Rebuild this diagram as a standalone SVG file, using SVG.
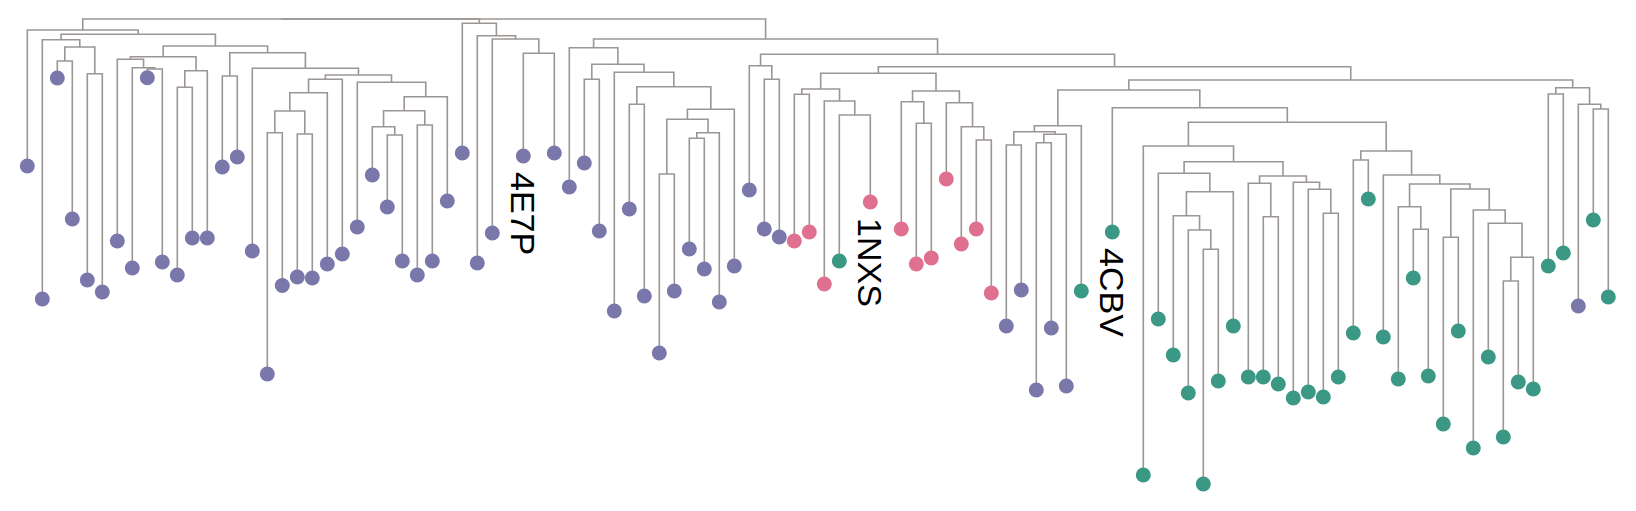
<svg xmlns="http://www.w3.org/2000/svg" width="1636" height="511" viewBox="0 0 1636 511">
<style>
.e{fill:none;stroke:#9b9693;stroke-width:1.6}
.p{fill:#7a78ab}
.k{fill:#e0708f}
.g{fill:#3a9884}
.t{font-family:"Liberation Sans",Arial,sans-serif;font-size:34px;fill:#000}
</style>
<rect width="1636" height="511" fill="#fff"/>
<g id="connectors" class="e">
<path d="M57.3 78 V61 H72.3 V219"/>
<path d="M87.3 280 V73.7 H102.3 V292"/>
<path d="M64.8 61 V47 H94.8 V73.7"/>
<path d="M42.3 299 V39.7 H79.8 V47"/>
<path d="M147.3 77.7 V69 H162.3 V262"/>
<path d="M132.3 268 V67.7 H154.8 V69"/>
<path d="M117.3 241 V59.3 H143.55 V67.7"/>
<path d="M177.3 275 V87.3 H192.3 V238"/>
<path d="M184.8 87.3 V70.7 H207.3 V238"/>
<path d="M130.4 59.3 V56.7 H196.05 V70.7"/>
<path d="M222.3 167 V76 H237.3 V157"/>
<path d="M267.3 374 V132.7 H282.3 V285.5"/>
<path d="M297.3 277 V134 H312.3 V278"/>
<path d="M274.8 132.7 V111 H304.8 V134"/>
<path d="M289.8 111 V92.7 H327.3 V264"/>
<path d="M308.55 92.7 V79.3 H342.3 V254"/>
<path d="M387.3 207 V135 H402.3 V261"/>
<path d="M372.3 175 V126.7 H394.8 V135"/>
<path d="M417.3 275 V125 H432.3 V261"/>
<path d="M383.55 126.7 V110.7 H424.8 V125"/>
<path d="M404.2 110.7 V96.7 H447.3 V201"/>
<path d="M357.3 227 V82.3 H425.75 V96.7"/>
<path d="M325.4 79.3 V75 H391.5 V82.3"/>
<path d="M252.3 251 V68.3 H358.45 V75"/>
<path d="M229.8 76 V52.7 H305.4 V68.3"/>
<path d="M163.2 56.7 V46 H267.6 V52.7"/>
<path d="M61.05 39.7 V34.3 H215.4 V46"/>
<path d="M27.3 166 V30 H138.2 V34.3"/>
<path d="M523.3 156 V53.3 H554.3 V153"/>
<path d="M492.3 233 V39 H538.8 V53.3"/>
<path d="M477.3 263 V35.7 H515.55 V39"/>
<path d="M462.3 153 V23.3 H496.4 V35.7"/>
<path d="M584.3 163 V79.3 H599.3 V231"/>
<path d="M629.3 209 V104.3 H644.3 V296"/>
<path d="M659.3 353 V174 H674.3 V291"/>
<path d="M689.3 249 V138.3 H704.3 V269"/>
<path d="M696.8 138.3 V132.7 H719.3 V302"/>
<path d="M666.8 174 V119.3 H708.05 V132.7"/>
<path d="M687.4 119.3 V109.3 H734.3 V266"/>
<path d="M636.8 104.3 V86.7 H710.85 V109.3"/>
<path d="M614.3 311 V72.3 H673.8 V86.7"/>
<path d="M591.8 79.3 V64.3 H644.05 V72.3"/>
<path d="M569.3 187 V47.7 H617.9 V64.3"/>
<path d="M764.3 229 V79.3 H779.3 V237"/>
<path d="M749.3 190 V65.7 H771.8 V79.3"/>
<path d="M794.3 241 V94.3 H809.3 V232"/>
<path d="M839.3 261 V115 H870.3 V202"/>
<path d="M824.3 284 V101 H854.8 V115"/>
<path d="M801.8 94.3 V89 H839.55 V101"/>
<path d="M916.3 264 V123.3 H931.3 V258"/>
<path d="M901.3 229 V101.7 H923.8 V123.3"/>
<path d="M976.3 229 V140 H991.3 V293"/>
<path d="M961.3 244 V126.7 H983.8 V140"/>
<path d="M946.3 179 V102.7 H972.55 V126.7"/>
<path d="M912.55 101.7 V91 H959.4 V102.7"/>
<path d="M820.7 89 V73.3 H936 V91"/>
<path d="M1006.3 326 V145 H1021.3 V290"/>
<path d="M1036.3 390 V142.7 H1051.3 V328"/>
<path d="M1043.8 142.7 V134.3 H1066.3 V386"/>
<path d="M1013.8 145 V131.7 H1055.05 V134.3"/>
<path d="M1034.4 131.7 V125.7 H1081.3 V291"/>
<path d="M1203.3 484 V249.3 H1218.3 V381"/>
<path d="M1188.3 393 V230 H1210.8 V249.3"/>
<path d="M1173.3 355 V215.7 H1199.55 V230"/>
<path d="M1186.4 215.7 V191.7 H1233.3 V326"/>
<path d="M1158.3 319 V173.3 H1209.85 V191.7"/>
<path d="M1263.3 377 V216.7 H1278.3 V384"/>
<path d="M1248.3 377 V183.3 H1270.8 V216.7"/>
<path d="M1323.3 397 V213.3 H1338.3 V377"/>
<path d="M1308.3 392 V189.3 H1330.8 V213.3"/>
<path d="M1293.3 398 V182.3 H1319.55 V189.3"/>
<path d="M1259.55 183.3 V176 H1306.4 V182.3"/>
<path d="M1184.1 173.3 V161.7 H1283 V176"/>
<path d="M1143.3 475 V146 H1233.55 V161.7"/>
<path d="M1353.3 333 V160 H1368.3 V199"/>
<path d="M1413.3 278 V229.3 H1428.3 V376"/>
<path d="M1398.3 379 V206.7 H1420.8 V229.3"/>
<path d="M1443.3 424 V237.3 H1458.3 V331"/>
<path d="M1503.3 437 V281 H1518.3 V382"/>
<path d="M1510.8 281 V257.3 H1533.3 V389"/>
<path d="M1488.3 357 V223.3 H1522.05 V257.3"/>
<path d="M1473.3 448 V210 H1505.2 V223.3"/>
<path d="M1450.8 237.3 V189 H1489.25 V210"/>
<path d="M1409.55 206.7 V184 H1470 V189"/>
<path d="M1383.3 337 V175 H1439.8 V184"/>
<path d="M1360.8 160 V151 H1411.55 V175"/>
<path d="M1188.4 146 V122.3 H1386.2 V151"/>
<path d="M1112.3 232 V107.7 H1287.3 V122.3"/>
<path d="M1057.85 125.7 V90 H1199.8 V107.7"/>
<path d="M1548.3 266 V94 H1563.3 V253"/>
<path d="M1593.3 220 V109 H1608.3 V297"/>
<path d="M1578.3 306 V104.3 H1600.8 V109"/>
<path d="M1555.8 94 V87.7 H1589.55 V104.3"/>
<path d="M1128.8 90 V80 H1572.7 V87.7"/>
<path d="M878.35 73.3 V66.7 H1350.75 V80"/>
<path d="M760.55 65.7 V54.3 H1114.55 V66.7"/>
<path d="M593.6 47.7 V39 H937.55 V54.3"/>
<path d="M82.75 30 V19 H479.35 V23.3"/>
<path d="M281.05 19 H765.6 V39"/>
</g>
<g id="n0"><circle class="p" cx="27.3" cy="166" r="7.5"/></g>
<g id="n1"><circle class="p" cx="42.3" cy="299" r="7.5"/></g>
<g id="n2"><circle class="p" cx="57.3" cy="78" r="7.5"/></g>
<g id="n3"><circle class="p" cx="72.3" cy="219" r="7.5"/></g>
<g id="n4"><circle class="p" cx="87.3" cy="280" r="7.5"/></g>
<g id="n5"><circle class="p" cx="102.3" cy="292" r="7.5"/></g>
<g id="n6"><circle class="p" cx="117.3" cy="241" r="7.5"/></g>
<g id="n7"><circle class="p" cx="132.3" cy="268" r="7.5"/></g>
<g id="n8"><circle class="p" cx="147.3" cy="77.7" r="7.5"/></g>
<g id="n9"><circle class="p" cx="162.3" cy="262" r="7.5"/></g>
<g id="n10"><circle class="p" cx="177.3" cy="275" r="7.5"/></g>
<g id="n11"><circle class="p" cx="192.3" cy="238" r="7.5"/></g>
<g id="n12"><circle class="p" cx="207.3" cy="238" r="7.5"/></g>
<g id="n13"><circle class="p" cx="222.3" cy="167" r="7.5"/></g>
<g id="n14"><circle class="p" cx="237.3" cy="157" r="7.5"/></g>
<g id="n15"><circle class="p" cx="252.3" cy="251" r="7.5"/></g>
<g id="n16"><circle class="p" cx="267.3" cy="374" r="7.5"/></g>
<g id="n17"><circle class="p" cx="282.3" cy="285.5" r="7.5"/></g>
<g id="n18"><circle class="p" cx="297.3" cy="277" r="7.5"/></g>
<g id="n19"><circle class="p" cx="312.3" cy="278" r="7.5"/></g>
<g id="n20"><circle class="p" cx="327.3" cy="264" r="7.5"/></g>
<g id="n21"><circle class="p" cx="342.3" cy="254" r="7.5"/></g>
<g id="n22"><circle class="p" cx="357.3" cy="227" r="7.5"/></g>
<g id="n23"><circle class="p" cx="372.3" cy="175" r="7.5"/></g>
<g id="n24"><circle class="p" cx="387.3" cy="207" r="7.5"/></g>
<g id="n25"><circle class="p" cx="402.3" cy="261" r="7.5"/></g>
<g id="n26"><circle class="p" cx="417.3" cy="275" r="7.5"/></g>
<g id="n27"><circle class="p" cx="432.3" cy="261" r="7.5"/></g>
<g id="n28"><circle class="p" cx="447.3" cy="201" r="7.5"/></g>
<g id="n29"><circle class="p" cx="462.3" cy="153" r="7.5"/></g>
<g id="n30"><circle class="p" cx="477.3" cy="263" r="7.5"/></g>
<g id="n31"><circle class="p" cx="492.3" cy="233" r="7.5"/></g>
<g id="n32"><circle class="p" cx="523.3" cy="156" r="7.5"/><text class="t" transform="translate(511.1 172) rotate(90)">4E7P</text></g>
<g id="n33"><circle class="p" cx="554.3" cy="153" r="7.5"/></g>
<g id="n34"><circle class="p" cx="569.3" cy="187" r="7.5"/></g>
<g id="n35"><circle class="p" cx="584.3" cy="163" r="7.5"/></g>
<g id="n36"><circle class="p" cx="599.3" cy="231" r="7.5"/></g>
<g id="n37"><circle class="p" cx="614.3" cy="311" r="7.5"/></g>
<g id="n38"><circle class="p" cx="629.3" cy="209" r="7.5"/></g>
<g id="n39"><circle class="p" cx="644.3" cy="296" r="7.5"/></g>
<g id="n40"><circle class="p" cx="659.3" cy="353" r="7.5"/></g>
<g id="n41"><circle class="p" cx="674.3" cy="291" r="7.5"/></g>
<g id="n42"><circle class="p" cx="689.3" cy="249" r="7.5"/></g>
<g id="n43"><circle class="p" cx="704.3" cy="269" r="7.5"/></g>
<g id="n44"><circle class="p" cx="719.3" cy="302" r="7.5"/></g>
<g id="n45"><circle class="p" cx="734.3" cy="266" r="7.5"/></g>
<g id="n46"><circle class="p" cx="749.3" cy="190" r="7.5"/></g>
<g id="n47"><circle class="p" cx="764.3" cy="229" r="7.5"/></g>
<g id="n48"><circle class="p" cx="779.3" cy="237" r="7.5"/></g>
<g id="n49"><circle class="k" cx="794.3" cy="241" r="7.5"/></g>
<g id="n50"><circle class="k" cx="809.3" cy="232" r="7.5"/></g>
<g id="n51"><circle class="k" cx="824.3" cy="284" r="7.5"/></g>
<g id="n52"><circle class="g" cx="839.3" cy="261" r="7.5"/></g>
<g id="n53"><circle class="k" cx="870.3" cy="202" r="7.5"/><text class="t" transform="translate(858.1 218) rotate(90)">1NXS</text></g>
<g id="n54"><circle class="k" cx="901.3" cy="229" r="7.5"/></g>
<g id="n55"><circle class="k" cx="916.3" cy="264" r="7.5"/></g>
<g id="n56"><circle class="k" cx="931.3" cy="258" r="7.5"/></g>
<g id="n57"><circle class="k" cx="946.3" cy="179" r="7.5"/></g>
<g id="n58"><circle class="k" cx="961.3" cy="244" r="7.5"/></g>
<g id="n59"><circle class="k" cx="976.3" cy="229" r="7.5"/></g>
<g id="n60"><circle class="k" cx="991.3" cy="293" r="7.5"/></g>
<g id="n61"><circle class="p" cx="1006.3" cy="326" r="7.5"/></g>
<g id="n62"><circle class="p" cx="1021.3" cy="290" r="7.5"/></g>
<g id="n63"><circle class="p" cx="1036.3" cy="390" r="7.5"/></g>
<g id="n64"><circle class="p" cx="1051.3" cy="328" r="7.5"/></g>
<g id="n65"><circle class="p" cx="1066.3" cy="386" r="7.5"/></g>
<g id="n66"><circle class="g" cx="1081.3" cy="291" r="7.5"/></g>
<g id="n67"><circle class="g" cx="1112.3" cy="232" r="7.5"/><text class="t" transform="translate(1100.1 248) rotate(90)">4CBV</text></g>
<g id="n68"><circle class="g" cx="1143.3" cy="475" r="7.5"/></g>
<g id="n69"><circle class="g" cx="1158.3" cy="319" r="7.5"/></g>
<g id="n70"><circle class="g" cx="1173.3" cy="355" r="7.5"/></g>
<g id="n71"><circle class="g" cx="1188.3" cy="393" r="7.5"/></g>
<g id="n72"><circle class="g" cx="1203.3" cy="484" r="7.5"/></g>
<g id="n73"><circle class="g" cx="1218.3" cy="381" r="7.5"/></g>
<g id="n74"><circle class="g" cx="1233.3" cy="326" r="7.5"/></g>
<g id="n75"><circle class="g" cx="1248.3" cy="377" r="7.5"/></g>
<g id="n76"><circle class="g" cx="1263.3" cy="377" r="7.5"/></g>
<g id="n77"><circle class="g" cx="1278.3" cy="384" r="7.5"/></g>
<g id="n78"><circle class="g" cx="1293.3" cy="398" r="7.5"/></g>
<g id="n79"><circle class="g" cx="1308.3" cy="392" r="7.5"/></g>
<g id="n80"><circle class="g" cx="1323.3" cy="397" r="7.5"/></g>
<g id="n81"><circle class="g" cx="1338.3" cy="377" r="7.5"/></g>
<g id="n82"><circle class="g" cx="1353.3" cy="333" r="7.5"/></g>
<g id="n83"><circle class="g" cx="1368.3" cy="199" r="7.5"/></g>
<g id="n84"><circle class="g" cx="1383.3" cy="337" r="7.5"/></g>
<g id="n85"><circle class="g" cx="1398.3" cy="379" r="7.5"/></g>
<g id="n86"><circle class="g" cx="1413.3" cy="278" r="7.5"/></g>
<g id="n87"><circle class="g" cx="1428.3" cy="376" r="7.5"/></g>
<g id="n88"><circle class="g" cx="1443.3" cy="424" r="7.5"/></g>
<g id="n89"><circle class="g" cx="1458.3" cy="331" r="7.5"/></g>
<g id="n90"><circle class="g" cx="1473.3" cy="448" r="7.5"/></g>
<g id="n91"><circle class="g" cx="1488.3" cy="357" r="7.5"/></g>
<g id="n92"><circle class="g" cx="1503.3" cy="437" r="7.5"/></g>
<g id="n93"><circle class="g" cx="1518.3" cy="382" r="7.5"/></g>
<g id="n94"><circle class="g" cx="1533.3" cy="389" r="7.5"/></g>
<g id="n95"><circle class="g" cx="1548.3" cy="266" r="7.5"/></g>
<g id="n96"><circle class="g" cx="1563.3" cy="253" r="7.5"/></g>
<g id="n97"><circle class="p" cx="1578.3" cy="306" r="7.5"/></g>
<g id="n98"><circle class="g" cx="1593.3" cy="220" r="7.5"/></g>
<g id="n99"><circle class="g" cx="1608.3" cy="297" r="7.5"/></g>
</svg>
